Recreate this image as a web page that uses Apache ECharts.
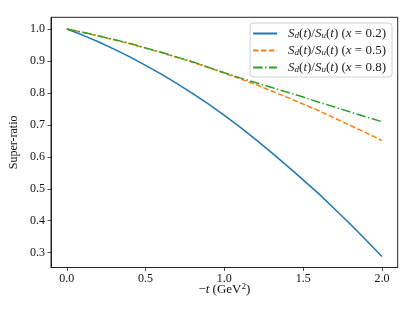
<!DOCTYPE html>
<html>
<head>
<meta charset="utf-8">
<script src="https://cdn.jsdelivr.net/npm/echarts@6/dist/echarts.min.js"></script>
<style>html,body{margin:0;padding:0;background:#fff}#c{width:415px;height:312px}</style>
</head>
<body>
<div id="c"></div>
<script>
// -t values (GeV^2)
const tValues = [0.0,0.1,0.2,0.3,0.4,0.5,0.6,0.7,0.8,0.9,1.0,1.1,1.2,1.3,1.4,1.5,1.6,1.7,1.8,1.9,2.0];
// super-ratio S_d(t)/S_u(t)
const ratioX02 = [1.000,0.981,0.960,0.937,0.913,0.886,0.859,0.829,0.798,0.765,0.730,0.693,0.654,0.613,0.571,0.528,0.484,0.437,0.389,0.339,0.288];
const ratioX05 = [1.000,0.990,0.978,0.966,0.954,0.940,0.926,0.911,0.896,0.879,0.862,0.844,0.826,0.806,0.786,0.765,0.744,0.721,0.698,0.675,0.651];
const ratioX08 = [1.000,0.990,0.979,0.967,0.955,0.941,0.927,0.912,0.897,0.880,0.863,0.847,0.832,0.817,0.802,0.787,0.771,0.756,0.740,0.725,0.710];
const seriesNames = ['0.2','0.5','0.8'];
const xTicks = [0.0,0.5,1.0,1.5,2.0];
const yTicks = [0.3,0.4,0.5,0.6,0.7,0.8,0.9,1.0];

const serif = '"Liberation Serif", "DejaVu Serif", serif';
const pair = arr => tValues.map((t,i)=>[t,arr[i]]);
const icons = [
  'path://M0,0h24v2h-24z',
  'path://M0,0h5.5v2h-5.5z M7.9,0h5.5v2h-5.5z M15.8,0h5.5v2h-5.5z M23.7,0h0.3v2h-0.3z',
  'path://M0,0h9.6v2h-9.6z M12,0h1.5v2h-1.5z M15.9,0h8.1v2h-8.1z'
];
const chart = echarts.init(document.getElementById('c'), null, {renderer:'canvas'});
const mk = (name, data, color, type) => ({
  name, type:'line', data: pair(data), symbol:'none', smooth:false,
  lineStyle:{color, width:1.5, type}, itemStyle:{color}, animation:false
});
const axLine = {show:true, onZero:false, lineStyle:{color:'#222', width:1}};
chart.setOption({
  animation:false,
  grid:{left:45.7, right:17.3, top:17.3, bottom:44.5, show:true, borderColor:'#222', borderWidth:1, backgroundColor:'transparent'},
  xAxis:{
    type:'value', min:-0.1, max:2.1,
    splitLine:{show:false},
    axisLine:axLine,
    axisTick:{show:true, inside:false, length:3.5, lineStyle:{color:'#222', width:0.8}, customValues:xTicks},
    axisLabel:{customValues:xTicks, formatter:v=>v.toFixed(1), fontFamily:serif, fontSize:12, color:'#111', margin:5},
    name:'{n|−}{i|t}{n| (GeV}{sup|2}{n|)}', nameLocation:'middle', nameGap:15, nameMoveOverlap:false,
    nameTextStyle:{verticalAlign:'top', rich:{
      n:{fontFamily:serif, fontSize:13, color:'#111', lineHeight:15, verticalAlign:'middle'},
      i:{fontFamily:serif, fontStyle:'italic', fontSize:13, color:'#111', lineHeight:15, verticalAlign:'middle'},
      sup:{fontFamily:serif, fontSize:9, color:'#111', verticalAlign:'top', lineHeight:10}
    }}
  },
  yAxis:{
    type:'value', min:0.2537, max:1.0366,
    splitLine:{show:false},
    axisLine:axLine,
    axisTick:{show:true, length:3.5, lineStyle:{color:'#222', width:0.8}, customValues:yTicks},
    axisLabel:{customValues:yTicks, formatter:v=>v.toFixed(1), fontFamily:serif, fontSize:12, color:'#111', margin:6},
    name:'Super-ratio', nameLocation:'middle', nameGap:31, nameRotate:90, nameMoveOverlap:false,
    nameTextStyle:{fontFamily:serif, fontSize:12, color:'#111'}
  },
  legend:{
    orient:'vertical', right:23, top:23, padding:[4,6,3,3], itemGap:4,
    itemWidth:24, itemHeight:2,
    borderColor:'#d0d0d0', borderWidth:1, borderRadius:3, backgroundColor:'rgba(255,255,255,0.85)',
    data:seriesNames.map((n,i)=>({name:n, icon:icons[i]})),
    formatter: name => '{i|S}{sub|d}{n|(}{i|t}{n|)/}{i|S}{sub|u}{n|(}{i|t}{n|) (}{i|x}{n| = ' + name + ')}',
    textStyle:{padding:[0,0,0,6], rich:{
      n:{fontFamily:serif, fontSize:13, color:'#222', lineHeight:13, verticalAlign:'middle'},
      i:{fontFamily:serif, fontStyle:'italic', fontSize:13, color:'#222', lineHeight:13, verticalAlign:'middle'},
      sub:{fontFamily:serif, fontStyle:'italic', fontSize:9, color:'#222', verticalAlign:'bottom', lineHeight:8}
    }}
  },
  series:[
    mk(seriesNames[0], ratioX02, '#1f77b4', 'solid'),
    mk(seriesNames[1], ratioX05, '#ff7f0e', [5.5,2.4]),
    mk(seriesNames[2], ratioX08, '#2ca02c', [9.6,2.4,1.5,2.4])
  ]
});
</script>
</body>
</html>
